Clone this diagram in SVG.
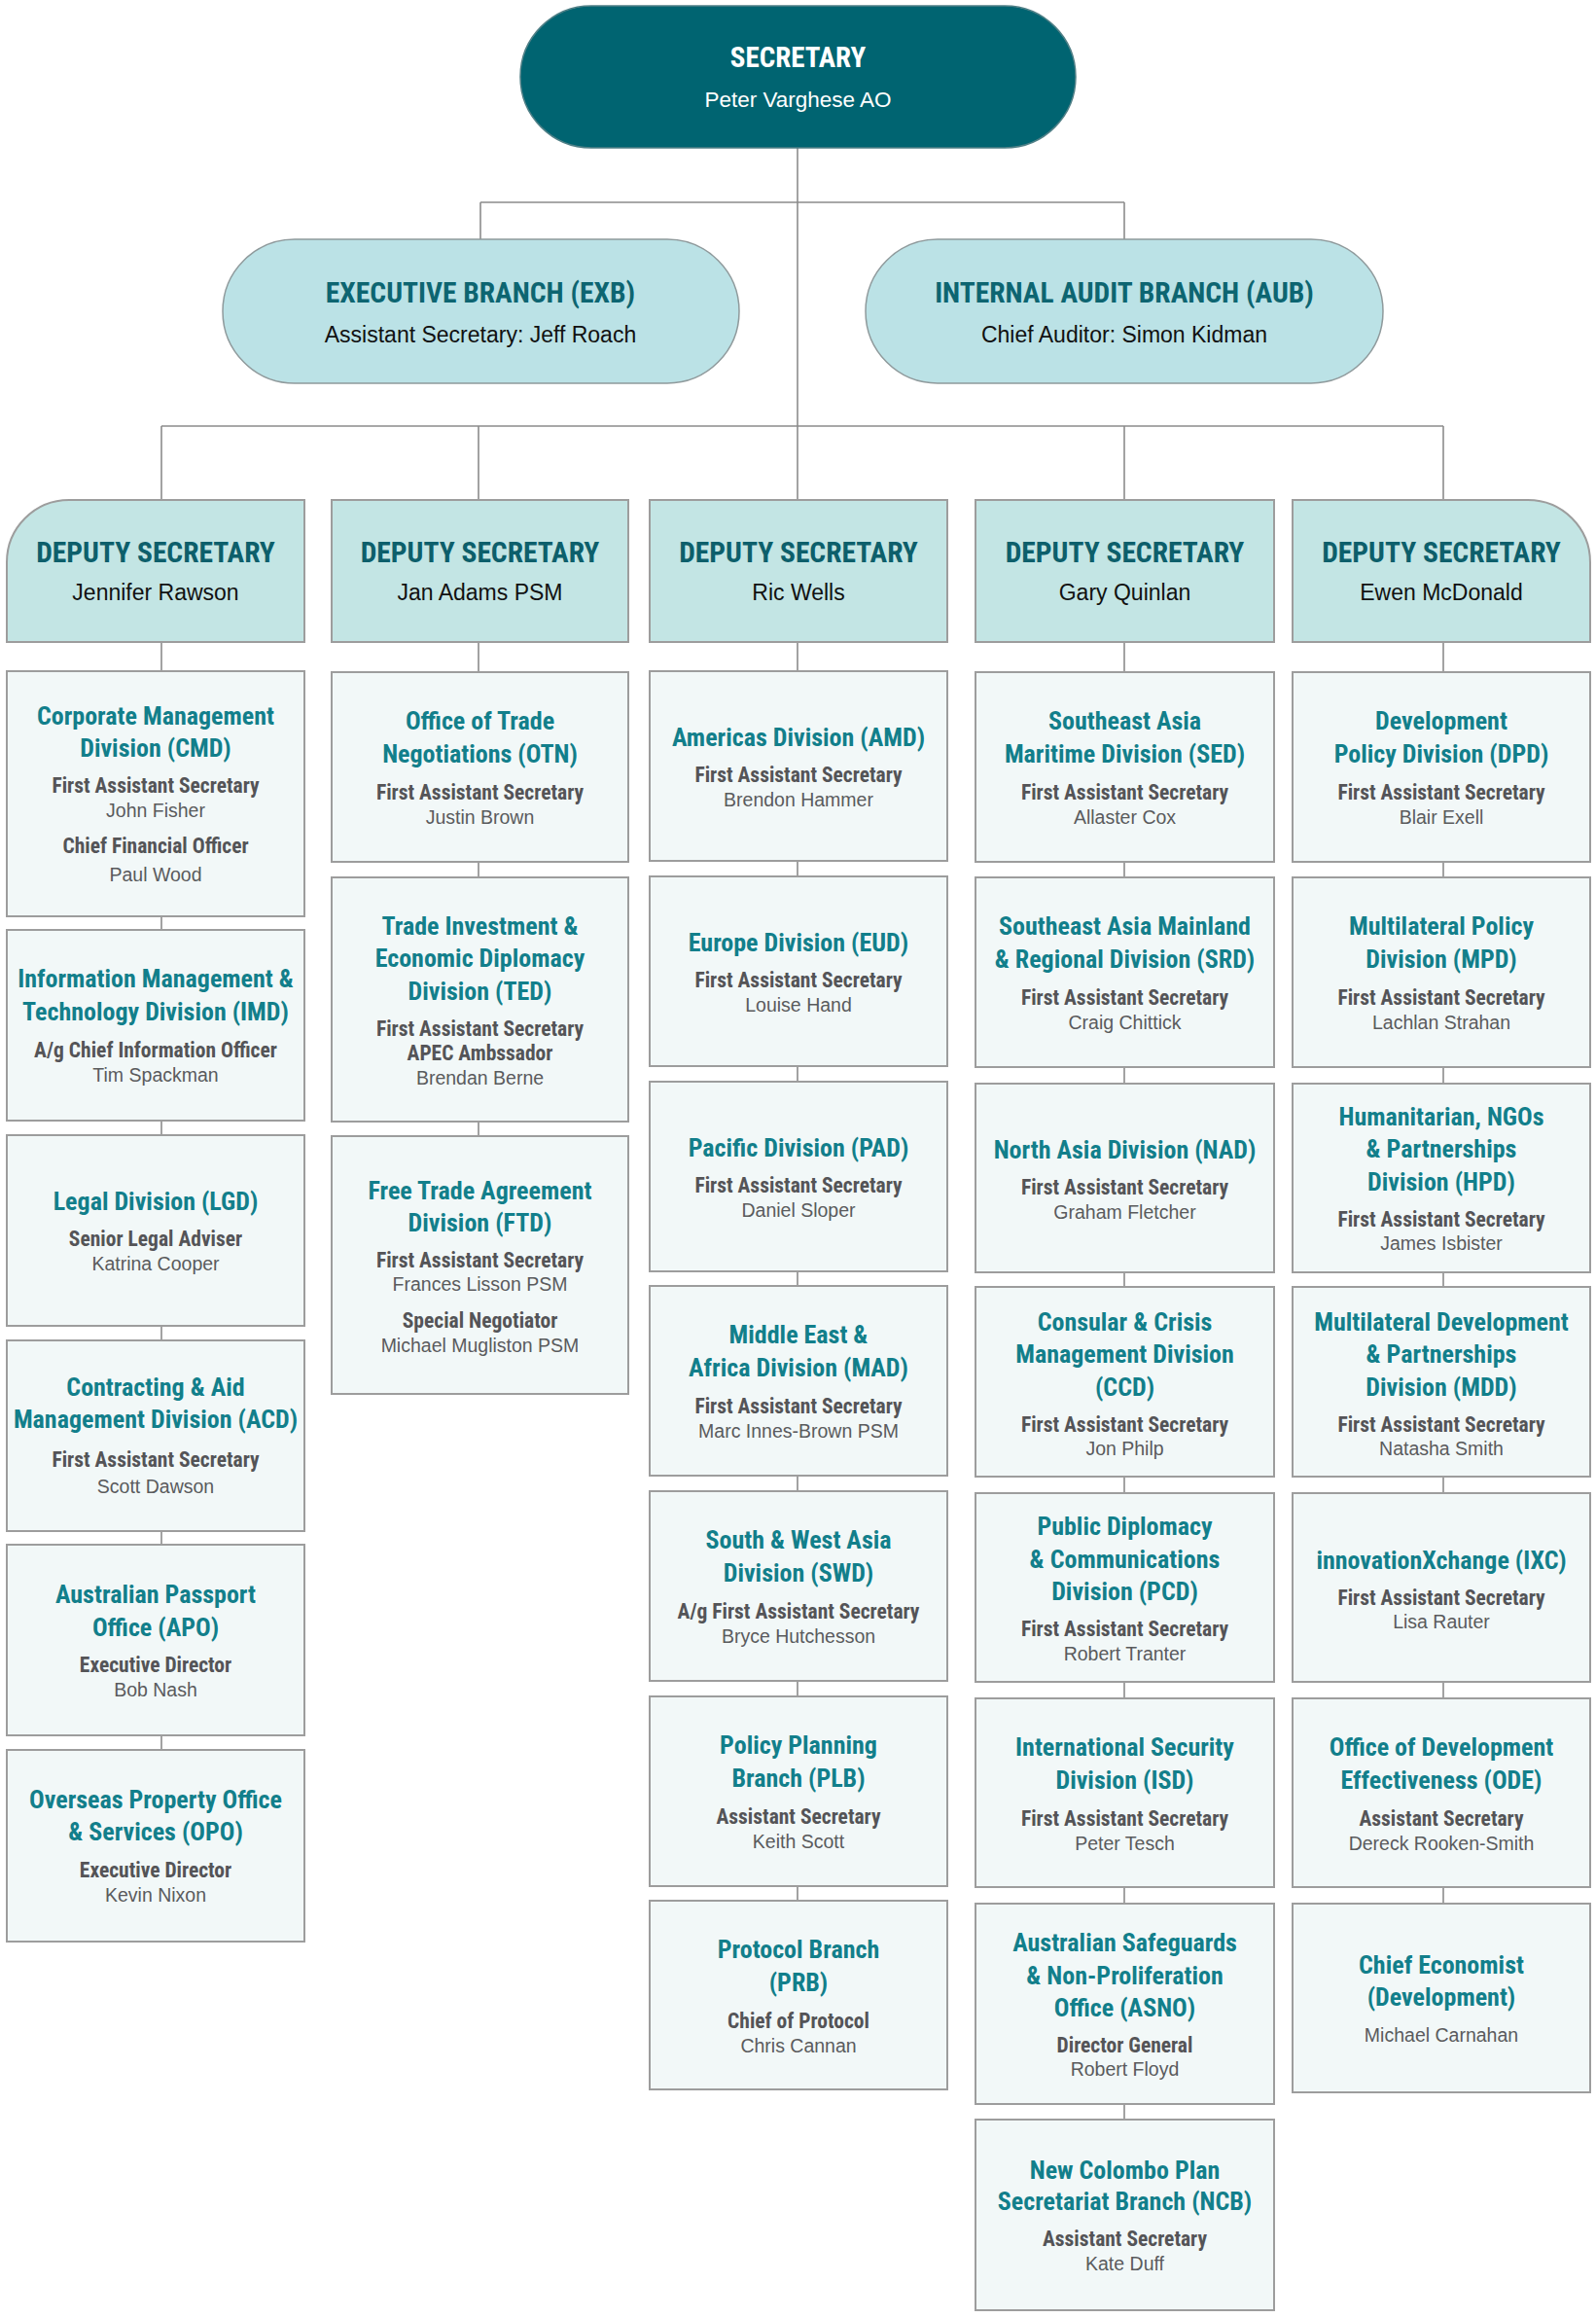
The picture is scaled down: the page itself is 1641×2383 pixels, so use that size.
<svg xmlns="http://www.w3.org/2000/svg" width="1641" height="2383" viewBox="0 0 1641 2383">
<style>
text{text-anchor:middle}
.cn{font-family:'Liberation Sans Narrow','Roboto Condensed','DejaVu Sans Condensed','Liberation Sans',sans-serif;font-stretch:condensed;font-weight:bold}
.rg{font-family:'Liberation Sans',Arial,sans-serif}
.sub{fill:#f2f8f8;stroke:#9d9d9d;stroke-width:2}
.ds{fill:#c3e5e4;stroke:#9d9d9d;stroke-width:2}
.br{fill:#bbe2e6;stroke:#8f9a9c;stroke-width:1.5}
.t{font-size:26px;fill:#127f8b}
.r{font-size:21.5px;fill:#545457}
.n{font-size:19.5px;fill:#5a5b5d}
.dt{font-size:29.5px;fill:#0d5f6b}
.dn{font-size:23px;fill:#111}
.bt{font-size:29.5px;fill:#0d6571}
.bn{font-size:23px;fill:#111}
</style>
<rect width="1641" height="2383" fill="#ffffff"/>
<g id="connectors" stroke="#8c8c8c" stroke-width="1.6" fill="none">
<path d="M820 152V514"/>
<path d="M494 208H1156M494 208V246M1156 208V246"/>
<path d="M166 438H1484M166 438V514M492 438V514M1156 438V514M1484 438V514"/>
<path d="M166 660V1799M492 660V1168M820 660V1954M1156 660V2179M1484 660V1957"/>
</g>
<g id="secretary">
<rect x="535" y="6" width="571" height="146" rx="73" fill="#006471" stroke="#4f7f86" stroke-width="1.5"/>
<text class="cn" x="820.5" y="69" font-size="29" fill="#ffffff">SECRETARY</text>
<text class="rg" x="820.5" y="109.5" font-size="22.5" fill="#ffffff">Peter Varghese AO</text>
</g>
<g id="exb">
<rect class="br" x="229" y="246" width="531" height="148" rx="74"/>
<text class="cn bt" x="494" y="311">EXECUTIVE BRANCH (EXB)</text>
<text class="rg bn" x="494" y="351.5">Assistant Secretary: Jeff Roach</text>
</g>
<g id="aub">
<rect class="br" x="890" y="246" width="532" height="148" rx="74"/>
<text class="cn bt" x="1156" y="311">INTERNAL AUDIT BRANCH (AUB)</text>
<text class="rg bn" x="1156" y="351.5">Chief Auditor: Simon Kidman</text>
</g>
<g id="ds1">
<path class="ds" d="M7 660V578A64 64 0 0 1 71 514H313V660Z"/>
<text class="cn dt" x="160" y="578">DEPUTY SECRETARY</text>
<text class="rg dn" x="160" y="617">Jennifer Rawson</text>
</g>
<g id="ds2">
<rect class="ds" x="341" y="514" width="305" height="146"/>
<text class="cn dt" x="493.5" y="578">DEPUTY SECRETARY</text>
<text class="rg dn" x="493.5" y="617">Jan Adams PSM</text>
</g>
<g id="ds3">
<rect class="ds" x="668" y="514" width="306" height="146"/>
<text class="cn dt" x="821" y="578">DEPUTY SECRETARY</text>
<text class="rg dn" x="821" y="617">Ric Wells</text>
</g>
<g id="ds4">
<rect class="ds" x="1003" y="514" width="307" height="146"/>
<text class="cn dt" x="1156.5" y="578">DEPUTY SECRETARY</text>
<text class="rg dn" x="1156.5" y="617">Gary Quinlan</text>
</g>
<g id="ds5">
<path class="ds" d="M1329 660V514H1571A64 64 0 0 1 1635 578V660Z"/>
<text class="cn dt" x="1482" y="578">DEPUTY SECRETARY</text>
<text class="rg dn" x="1482" y="617">Ewen McDonald</text>
</g>

<g id="cmd">
<rect class="sub" x="7" y="690" width="306" height="252"/>
<text class="cn t" x="160" y="745">Corporate Management</text>
<text class="cn t" x="160" y="778">Division (CMD)</text>
<text class="cn r" x="160" y="815">First Assistant Secretary</text>
<text class="rg n" x="160" y="839.5">John Fisher</text>
<text class="cn r" x="160" y="877">Chief Financial Officer</text>
<text class="rg n" x="160" y="906">Paul Wood</text>
</g>
<g id="imd">
<rect class="sub" x="7" y="956" width="306" height="196"/>
<text class="cn t" x="160" y="1015">Information Management &amp;</text>
<text class="cn t" x="160" y="1049">Technology Division (IMD)</text>
<text class="cn r" x="160" y="1086.5">A/g Chief Information Officer</text>
<text class="rg n" x="160" y="1111.5">Tim Spackman</text>
</g>
<g id="lgd">
<rect class="sub" x="7" y="1167" width="306" height="196"/>
<text class="cn t" x="160" y="1244">Legal Division (LGD)</text>
<text class="cn r" x="160" y="1281">Senior Legal Adviser</text>
<text class="rg n" x="160" y="1305.5">Katrina Cooper</text>
</g>
<g id="acd">
<rect class="sub" x="7" y="1378" width="306" height="196"/>
<text class="cn t" x="160" y="1435">Contracting &amp; Aid</text>
<text class="cn t" x="160" y="1468">Management Division (ACD)</text>
<text class="cn r" x="160" y="1508">First Assistant Secretary</text>
<text class="rg n" x="160" y="1535">Scott Dawson</text>
</g>
<g id="apo">
<rect class="sub" x="7" y="1588" width="306" height="196"/>
<text class="cn t" x="160" y="1648">Australian Passport</text>
<text class="cn t" x="160" y="1681.5">Office (APO)</text>
<text class="cn r" x="160" y="1718.5">Executive Director</text>
<text class="rg n" x="160" y="1743.5">Bob Nash</text>
</g>
<g id="opo">
<rect class="sub" x="7" y="1799" width="306" height="197"/>
<text class="cn t" x="160" y="1858.5">Overseas Property Office</text>
<text class="cn t" x="160" y="1892">&amp; Services (OPO)</text>
<text class="cn r" x="160" y="1930">Executive Director</text>
<text class="rg n" x="160" y="1955">Kevin Nixon</text>
</g>

<g id="otn">
<rect class="sub" x="341" y="691" width="305" height="195"/>
<text class="cn t" x="493.5" y="750">Office of Trade</text>
<text class="cn t" x="493.5" y="784">Negotiations (OTN)</text>
<text class="cn r" x="493.5" y="821.5">First Assistant Secretary</text>
<text class="rg n" x="493.5" y="846.5">Justin Brown</text>
</g>
<g id="ted">
<rect class="sub" x="341" y="902" width="305" height="251"/>
<text class="cn t" x="493.5" y="960.5">Trade Investment &amp;</text>
<text class="cn t" x="493.5" y="994">Economic Diplomacy</text>
<text class="cn t" x="493.5" y="1027.5">Division (TED)</text>
<text class="cn r" x="493.5" y="1064.5">First Assistant Secretary</text>
<text class="cn r" x="493.5" y="1090">APEC Ambssador</text>
<text class="rg n" x="493.5" y="1114.5">Brendan Berne</text>
</g>
<g id="ftd">
<rect class="sub" x="341" y="1168" width="305" height="265"/>
<text class="cn t" x="493.5" y="1232.5">Free Trade Agreement</text>
<text class="cn t" x="493.5" y="1266">Division (FTD)</text>
<text class="cn r" x="493.5" y="1303">First Assistant Secretary</text>
<text class="rg n" x="493.5" y="1327">Frances Lisson PSM</text>
<text class="cn r" x="493.5" y="1365">Special Negotiator</text>
<text class="rg n" x="493.5" y="1389.5">Michael Mugliston PSM</text>
</g>

<g id="amd">
<rect class="sub" x="668" y="690" width="306" height="195"/>
<text class="cn t" x="821" y="767">Americas Division (AMD)</text>
<text class="cn r" x="821" y="804">First Assistant Secretary</text>
<text class="rg n" x="821" y="828.5">Brendon Hammer</text>
</g>
<g id="eud">
<rect class="sub" x="668" y="901" width="306" height="195"/>
<text class="cn t" x="821" y="978">Europe Division (EUD)</text>
<text class="cn r" x="821" y="1015">First Assistant Secretary</text>
<text class="rg n" x="821" y="1039.5">Louise Hand</text>
</g>
<g id="pad">
<rect class="sub" x="668" y="1112" width="306" height="195"/>
<text class="cn t" x="821" y="1189">Pacific Division (PAD)</text>
<text class="cn r" x="821" y="1226">First Assistant Secretary</text>
<text class="rg n" x="821" y="1250.5">Daniel Sloper</text>
</g>
<g id="mad">
<rect class="sub" x="668" y="1322" width="306" height="195"/>
<text class="cn t" x="821" y="1381">Middle East &amp;</text>
<text class="cn t" x="821" y="1415">Africa Division (MAD)</text>
<text class="cn r" x="821" y="1452.5">First Assistant Secretary</text>
<text class="rg n" x="821" y="1477.5">Marc Innes-Brown PSM</text>
</g>
<g id="swd">
<rect class="sub" x="668" y="1533" width="306" height="195"/>
<text class="cn t" x="821" y="1592">South &amp; West Asia</text>
<text class="cn t" x="821" y="1626">Division (SWD)</text>
<text class="cn r" x="821" y="1663.5">A/g First Assistant Secretary</text>
<text class="rg n" x="821" y="1688.5">Bryce Hutchesson</text>
</g>
<g id="plb">
<rect class="sub" x="668" y="1744" width="306" height="195"/>
<text class="cn t" x="821" y="1803">Policy Planning</text>
<text class="cn t" x="821" y="1837">Branch (PLB)</text>
<text class="cn r" x="821" y="1874.5">Assistant Secretary</text>
<text class="rg n" x="821" y="1899.5">Keith Scott</text>
</g>
<g id="prb">
<rect class="sub" x="668" y="1954" width="306" height="194"/>
<text class="cn t" x="821" y="2013">Protocol Branch</text>
<text class="cn t" x="821" y="2047">(PRB)</text>
<text class="cn r" x="821" y="2084.5">Chief of Protocol</text>
<text class="rg n" x="821" y="2109.5">Chris Cannan</text>
</g>

<g id="sed">
<rect class="sub" x="1003" y="691" width="307" height="195"/>
<text class="cn t" x="1156.5" y="750">Southeast Asia</text>
<text class="cn t" x="1156.5" y="784">Maritime Division (SED)</text>
<text class="cn r" x="1156.5" y="821.5">First Assistant Secretary</text>
<text class="rg n" x="1156.5" y="846.5">Allaster Cox</text>
</g>
<g id="srd">
<rect class="sub" x="1003" y="902" width="307" height="195"/>
<text class="cn t" x="1156.5" y="961">Southeast Asia Mainland</text>
<text class="cn t" x="1156.5" y="995">&amp; Regional Division (SRD)</text>
<text class="cn r" x="1156.5" y="1032.5">First Assistant Secretary</text>
<text class="rg n" x="1156.5" y="1057.5">Craig Chittick</text>
</g>
<g id="nad">
<rect class="sub" x="1003" y="1114" width="307" height="194"/>
<text class="cn t" x="1156.5" y="1191">North Asia Division (NAD)</text>
<text class="cn r" x="1156.5" y="1228">First Assistant Secretary</text>
<text class="rg n" x="1156.5" y="1252.5">Graham Fletcher</text>
</g>
<g id="ccd">
<rect class="sub" x="1003" y="1323" width="307" height="195"/>
<text class="cn t" x="1156.5" y="1367.5">Consular &amp; Crisis</text>
<text class="cn t" x="1156.5" y="1401">Management Division</text>
<text class="cn t" x="1156.5" y="1434.5">(CCD)</text>
<text class="cn r" x="1156.5" y="1471.5">First Assistant Secretary</text>
<text class="rg n" x="1156.5" y="1496">Jon Philp</text>
</g>
<g id="pcd">
<rect class="sub" x="1003" y="1535" width="307" height="194"/>
<text class="cn t" x="1156.5" y="1578">Public Diplomacy</text>
<text class="cn t" x="1156.5" y="1611.5">&amp; Communications</text>
<text class="cn t" x="1156.5" y="1645">Division (PCD)</text>
<text class="cn r" x="1156.5" y="1682">First Assistant Secretary</text>
<text class="rg n" x="1156.5" y="1706.5">Robert Tranter</text>
</g>
<g id="isd">
<rect class="sub" x="1003" y="1746" width="307" height="194"/>
<text class="cn t" x="1156.5" y="1805">International Security</text>
<text class="cn t" x="1156.5" y="1839">Division (ISD)</text>
<text class="cn r" x="1156.5" y="1876.5">First Assistant Secretary</text>
<text class="rg n" x="1156.5" y="1901.5">Peter Tesch</text>
</g>
<g id="asno">
<rect class="sub" x="1003" y="1957" width="307" height="206"/>
<text class="cn t" x="1156.5" y="2006">Australian Safeguards</text>
<text class="cn t" x="1156.5" y="2039.5">&amp; Non-Proliferation</text>
<text class="cn t" x="1156.5" y="2073">Office (ASNO)</text>
<text class="cn r" x="1156.5" y="2110">Director General</text>
<text class="rg n" x="1156.5" y="2134">Robert Floyd</text>
</g>
<g id="ncb">
<rect class="sub" x="1003" y="2179" width="307" height="196"/>
<text class="cn t" x="1156.5" y="2239.5">New Colombo Plan</text>
<text class="cn t" x="1156.5" y="2272">Secretariat Branch (NCB)</text>
<text class="cn r" x="1156.5" y="2308.5">Assistant Secretary</text>
<text class="rg n" x="1156.5" y="2333.5">Kate Duff</text>
</g>

<g id="dpd">
<rect class="sub" x="1329" y="691" width="306" height="195"/>
<text class="cn t" x="1482" y="750">Development</text>
<text class="cn t" x="1482" y="784">Policy Division (DPD)</text>
<text class="cn r" x="1482" y="821.5">First Assistant Secretary</text>
<text class="rg n" x="1482" y="846.5">Blair Exell</text>
</g>
<g id="mpd">
<rect class="sub" x="1329" y="902" width="306" height="195"/>
<text class="cn t" x="1482" y="961">Multilateral Policy</text>
<text class="cn t" x="1482" y="995">Division (MPD)</text>
<text class="cn r" x="1482" y="1032.5">First Assistant Secretary</text>
<text class="rg n" x="1482" y="1057.5">Lachlan Strahan</text>
</g>
<g id="hpd">
<rect class="sub" x="1329" y="1114" width="306" height="194"/>
<text class="cn t" x="1482" y="1156.5">Humanitarian, NGOs</text>
<text class="cn t" x="1482" y="1190">&amp; Partnerships</text>
<text class="cn t" x="1482" y="1223.5">Division (HPD)</text>
<text class="cn r" x="1482" y="1260.5">First Assistant Secretary</text>
<text class="rg n" x="1482" y="1284.5">James Isbister</text>
</g>
<g id="mdd">
<rect class="sub" x="1329" y="1323" width="306" height="195"/>
<text class="cn t" x="1482" y="1367.5">Multilateral Development</text>
<text class="cn t" x="1482" y="1401">&amp; Partnerships</text>
<text class="cn t" x="1482" y="1434.5">Division (MDD)</text>
<text class="cn r" x="1482" y="1471.5">First Assistant Secretary</text>
<text class="rg n" x="1482" y="1496">Natasha Smith</text>
</g>
<g id="ixc">
<rect class="sub" x="1329" y="1535" width="306" height="194"/>
<text class="cn t" x="1482" y="1612.5">innovationXchange (IXC)</text>
<text class="cn r" x="1482" y="1649.5">First Assistant Secretary</text>
<text class="rg n" x="1482" y="1673.5">Lisa Rauter</text>
</g>
<g id="ode">
<rect class="sub" x="1329" y="1746" width="306" height="194"/>
<text class="cn t" x="1482" y="1805">Office of Development</text>
<text class="cn t" x="1482" y="1839">Effectiveness (ODE)</text>
<text class="cn r" x="1482" y="1876.5">Assistant Secretary</text>
<text class="rg n" x="1482" y="1901.5">Dereck Rooken-Smith</text>
</g>
<g id="chief-economist">
<rect class="sub" x="1329" y="1957" width="306" height="194"/>
<text class="cn t" x="1482" y="2028.5">Chief Economist</text>
<text class="cn t" x="1482" y="2062">(Development)</text>
<text class="rg n" x="1482" y="2098.5">Michael Carnahan</text>
</g>
</svg>
